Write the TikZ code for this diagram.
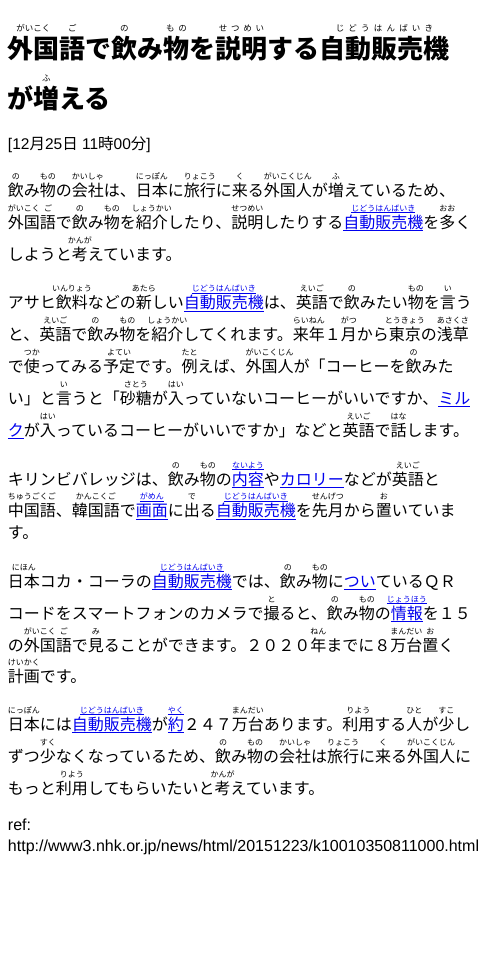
\documentclass[tikz,border=0pt]{standalone}
\usepackage{fontspec}
\setmainfont{Noto Sans CJK JP}
\newfontfamily\latf{Liberation Sans}
\definecolor{linkblue}{RGB}{0,0,238}
\newsavebox\rbbox
\newsavebox\ulbox
\newlength\rbraise
\setlength\rbraise{17pt}
\newlength\rbfs
\setlength\rbfs{8pt}
\newcommand\rbsize{\normalfont\fontsize{\rbfs}{\rbfs}\selectfont}
\makeatletter
\newcommand\spreadkana[2]{\@tfor\sk@c:=#2\do{\kern#1\relax\sk@c\kern#1\relax}}
\makeatother
\newcommand\ul[1]{\sbox\ulbox{#1}\rlap{\rule[\dimexpr-0.11em-1pt\relax]{\wd\ulbox}{1pt}}\usebox\ulbox}
\newcommand\rb[3][0pt]{\sbox\rbbox{#2}\rlap{\makebox[\wd\rbbox][c]{\raisebox{\rbraise}{\rbsize\spreadkana{#1}{#3}}}}\usebox\rbbox}
\newcommand\rbl[2]{\textcolor{linkblue}{\sbox\rbbox{\ul{#1}}\rlap{\makebox[\wd\rbbox][c]{\raisebox{\rbraise}{\rbsize\ul{#2}}}}\usebox\rbbox}}
\newcommand\lk[1]{\textcolor{linkblue}{\ul{#1}}}
\tikzset{
  txtline/.style={anchor=base west, inner sep=0pt, outer sep=0pt, font=\fontsize{16pt}{16pt}\selectfont},
  ttlline/.style={anchor=base west, inner sep=0pt, outer sep=0pt, font=\fontsize{26pt}{26pt}\selectfont\bfseries},
  dateline/.style={anchor=base west, inner sep=0pt, outer sep=0pt, font=\fontsize{15.5pt}{15.5pt}\selectfont},
  latline/.style={anchor=base west, inner sep=0pt, outer sep=0pt, font=\latf\fontsize{16pt}{16pt}\selectfont}
}
\begin{document}
\begin{tikzpicture}[x=1pt,y=-1pt]
\useasboundingbox[fill=white] (0,0) rectangle (480,962);
% title
\node[ttlline] (t1) at (7.5,58.5) {\setlength\rbfs{8.5pt}\setlength\rbraise{27.5pt}\rb{外国}{がいこく}\rb{語}{ご}で\rb{飲}{の}み\rb[1.9pt]{物}{もの}を\rb[1.9pt]{説明}{せつめい}する\rb[2.1pt]{自動販売機}{じどうはんばいき}};
\node[ttlline] (t2) at (7.5,108.5) {\setlength\rbfs{8.5pt}\setlength\rbraise{27.5pt}が\rb{増}{ふ}える};
% date
\node[dateline] (date) at (8,149) {{\latf [12}月{\latf 25}日{\latf\ 11}時{\latf 00}分{\latf ]}};
% paragraph 1
\node[txtline] (p1a) at (8,196.4) {\rb{飲}{の}み\rb{物}{もの}の\rb{会社}{かいしゃ}は、\rb{日本}{にっぽん}に\rb{旅行}{りょこう}に\rb{来}{く}る\rb{外国人}{がいこくじん}が\rb{増}{ふ}えているため、};
\node[txtline] (p1b) at (8,228.3) {\rb{外国}{がいこく}\rb{語}{ご}で\rb{飲}{の}み\rb{物}{もの}を\rb{紹介}{しょうかい}したり、\rb{説明}{せつめい}したりする\rbl{自動販売機}{じどうはんばいき}を\rb{多}{おお}く};
\node[txtline] (p1c) at (8,260.2) {しようと\rb{考}{かんが}えています。};
% paragraph 2
\node[txtline] (p2a) at (8,308.8) {アサヒ\rb{飲料}{いんりょう}などの\rb{新}{あたら}しい\rbl{自動販売機}{じどうはんばいき}は、\rb{英語}{えいご}で\rb{飲}{の}みたい\rb{物}{もの}を\rb{言}{い}う};
\node[txtline] (p2b) at (8,340.7) {と、\rb{英語}{えいご}で\rb{飲}{の}み\rb{物}{もの}を\rb{紹介}{しょうかい}してくれます。\rb{来年}{らいねん}１\rb{月}{がつ}から\rb{東京}{とうきょう}の\rb{浅草}{あさくさ}};
\node[txtline] (p2c) at (8,372.6) {で\rb{使}{つか}ってみる\rb{予定}{よてい}です。\rb{例}{たと}えば、\rb{外国人}{がいこくじん}が「コーヒーを\rb{飲}{の}みた};
\node[txtline] (p2d) at (8,404.5) {い」と\rb{言}{い}うと「\rb{砂糖}{さとう}が\rb{入}{はい}っていないコーヒーがいいですか、\lk{ミル}};
\node[txtline] (p2e) at (8,436.4) {\lk{ク}が\rb{入}{はい}っているコーヒーがいいですか」などと\rb{英語}{えいご}で\rb{話}{はな}します。};
% paragraph 3
\node[txtline] (p3a) at (8,485) {キリンビバレッジは、\rb{飲}{の}み\rb{物}{もの}の\rbl{内容}{ないよう}や\lk{カロリー}などが\rb{英語}{えいご}と};
\node[txtline] (p3b) at (8,516.9) {\rb{中国語}{ちゅうごくご}、\rb{韓国語}{かんこくご}で\rbl{画面}{がめん}に\rb{出}{で}る\rbl{自動販売機}{じどうはんばいき}を\rb{先月}{せんげつ}から\rb{置}{お}いていま};
\node[txtline] (p3c) at (8,538) {す。};
% paragraph 4
\node[txtline] (p4a) at (8,587.5) {\rb{日本}{にほん}コカ・コーラの\rbl{自動販売機}{じどうはんばいき}では、\rb{飲}{の}み\rb{物}{もの}に\lk{つい}ているＱＲ};
\node[txtline] (p4b) at (8,619.5) {コードをスマートフォンのカメラで\rb{撮}{と}ると、\rb{飲}{の}み\rb{物}{もの}の\rbl{情報}{じょうほう}を１５};
\node[txtline] (p4c) at (8,651) {の\rb{外国}{がいこく}\rb{語}{ご}で\rb{見}{み}ることができます。２０２０\rb{年}{ねん}までに８\rb{万台}{まんだい}\rb{置}{お}く};
\node[txtline] (p4d) at (8,682.5) {\rb{計画}{けいかく}です。};
% paragraph 5
\node[txtline] (p5a) at (8,730) {\rb{日本}{にっぽん}には\rbl{自動販売機}{じどうはんばいき}が\rbl{約}{やく}２４７\rb{万台}{まんだい}あります。\rb{利用}{りよう}する\rb{人}{ひと}が\rb{少}{すこ}し};
\node[txtline] (p5b) at (8,762.2) {ずつ\rb{少}{すく}なくなっているため、\rb{飲}{の}み\rb{物}{もの}の\rb{会社}{かいしゃ}は\rb{旅行}{りょこう}に\rb{来}{く}る\rb{外国人}{がいこくじん}に};
\node[txtline] (p5c) at (8,794.4) {もっと\rb{利用}{りよう}してもらいたいと\rb{考}{かんが}えています。};
% reference
\node[latline] (ref) at (8,830.5) {ref:};
\node[latline] (url) at (8,851) {http://www3.nhk.or.jp/news/html/20151223/k10010350811000.html};
\end{tikzpicture}
\end{document}
